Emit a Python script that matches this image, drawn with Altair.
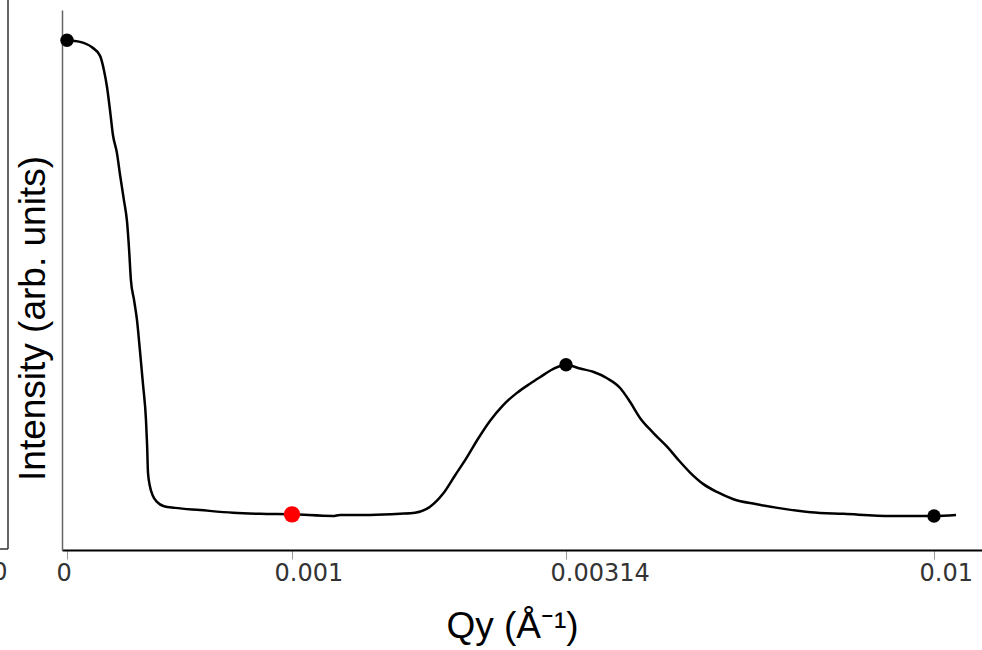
import altair as alt
import pandas as pd

# Curve: Qy (1/Å) and intensity (arb. units, 0-100)
qy = [0.0, 0.000058, 0.000111, 0.000147, 0.000164, 0.000178, 0.000191, 0.000204,
      0.000222, 0.000236, 0.000253, 0.000267, 0.000276, 0.000284, 0.000298, 0.000311,
      0.000324, 0.000338, 0.000351, 0.000356, 0.000360, 0.000369, 0.000382, 0.000400,
      0.000431, 0.000480, 0.000591, 0.000738, 0.000858, 0.001, 0.00132, 0.001375,
      0.001609, 0.001844, 0.001961, 0.002078, 0.002179, 0.002273, 0.002367, 0.002453,
      0.002546, 0.002648, 0.002757, 0.002859, 0.002937, 0.003038, 0.00314, 0.003402,
      0.003645, 0.003906, 0.004149, 0.004336, 0.004523, 0.004766, 0.005028, 0.005234,
      0.005458, 0.005701, 0.005963, 0.006262, 0.006673, 0.007084, 0.007701, 0.008318,
      0.009196, 0.01, 0.010411]
intensity = [94.4, 94.1, 93.1, 91.5, 88.9, 85.7, 81.5, 76.9,
             73.5, 69.4, 64.8, 60.7, 55.6, 50.0, 46.3, 42.6,
             37.0, 30.6, 24.1, 19.4, 14.3, 11.7, 10.0, 8.9,
             8.1, 7.8, 7.4, 6.9, 6.7, 6.6, 6.3, 6.5,
             6.5, 6.7, 6.9, 8.0, 10.4, 13.8, 17.2, 20.6,
             23.9, 26.8, 29.1, 30.8, 32.0, 33.5, 34.3, 33.6,
             33.0, 31.8, 30.0, 27.4, 24.4, 21.7, 19.1, 16.7,
             14.3, 12.2, 10.7, 9.4, 8.5, 7.8, 7.0, 6.7,
             6.3, 6.3, 6.5]

# Highlighted points
mark_q = [0.0, 0.00314, 0.01]
mark_i = [94.4, 34.3, 6.3]
red_q = [0.001]
red_i = [6.6]

# Axis ticks
tick_values = [0, 0.001, 0.00314, 0.01]

curve = pd.DataFrame({"q": qy, "i": intensity})
marks = pd.DataFrame({"q": mark_q, "i": mark_i})
reds = pd.DataFrame({"q": red_q, "i": red_i})

xscale = alt.Scale(domain=[-0.0000222, 0, 0.001, 0.00314, 0.01, 0.010897],
                   range=[0, 5, 230, 504, 872, 920], nice=False, zero=False)
yscale = alt.Scale(domain=[0, 100], nice=False, zero=False)

xaxis = alt.Axis(
    values=tick_values, format="~g", grid=False,
    domainColor="#000000", domainWidth=2,
    tickColor="#999999", tickWidth=1, tickSize=9,
    labelFont="DejaVu Sans", labelFontSize=24, labelColor="#333333",
    labelAlign="left", labelBaseline="alphabetic", labelPadding=21,
    labelOffset={"condition": [{"test": "datum.value == 0", "value": -11},
                               {"test": "datum.value == 0.001", "value": -18},
                               {"test": "datum.value == 0.01", "value": -15}],
                 "value": -16},
    labelFlush=False, labelOverlap=False,
    title="Qy (Å⁻¹)", titleFont="Liberation Sans", titleFontSize=37,
    titleFontWeight="normal", titleColor="#000000",
    titleAnchor="start", titleAlign="center", titleBaseline="alphabetic",
    titleX=450, titleY=87,
)
yaxis = alt.Axis(
    grid=False, ticks=False, labels=False,
    domainColor="#666666", domainWidth=1.5,
    title="Intensity (arb. units)", titleFont="Liberation Sans", titleFontSize=37,
    titleFontWeight="normal", titleColor="#000000",
    titleAngle=270, titleAlign="center", titleBaseline="middle",
    titleX=-29, titleY=308,
)

line = alt.Chart(curve).mark_line(color="#000000", strokeWidth=2.5,
                                  interpolate="monotone").encode(
    x=alt.X("q:Q", scale=xscale, axis=xaxis),
    y=alt.Y("i:Q", scale=yscale, axis=yaxis),
)
pts = alt.Chart(marks).mark_circle(color="#000000", opacity=1, size=180).encode(
    x=alt.X("q:Q", scale=xscale),
    y=alt.Y("i:Q", scale=yscale),
)
red = alt.Chart(reds).mark_circle(color="#ff0000", opacity=1, size=270).encode(
    x=alt.X("q:Q", scale=xscale),
    y=alt.Y("i:Q", scale=yscale),
)

# Remnant of a neighbouring panel at the far left edge
rem_v = alt.Chart(pd.DataFrame({"k": [0]})).mark_rule(color="#333333", strokeWidth=1.5).encode(
    x=alt.value(-54), y=alt.value(-10), y2=alt.value(539))
rem_h = alt.Chart(pd.DataFrame({"k": [0]})).mark_rule(color="#333333", strokeWidth=1.5).encode(
    x=alt.value(-64), x2=alt.value(-54), y=alt.value(539))
rem_t = alt.Chart(pd.DataFrame({"k": ["0"]})).mark_text(
    font="DejaVu Sans", fontSize=24, color="#333333", align="center", baseline="alphabetic").encode(
    x=alt.value(-62), y=alt.value(570), text="k:N")

chart = alt.layer(line, pts, red, rem_v, rem_h, rem_t).properties(
    width=920, height=540,
    autosize=alt.AutoSizeParams(type="none"),
    padding={"left": 62, "top": 10, "right": 0, "bottom": 100},
    background="#ffffff",
).configure_view(stroke=None)

chart.save("out.html", embed_options={"renderer": "svg", "actions": False})
